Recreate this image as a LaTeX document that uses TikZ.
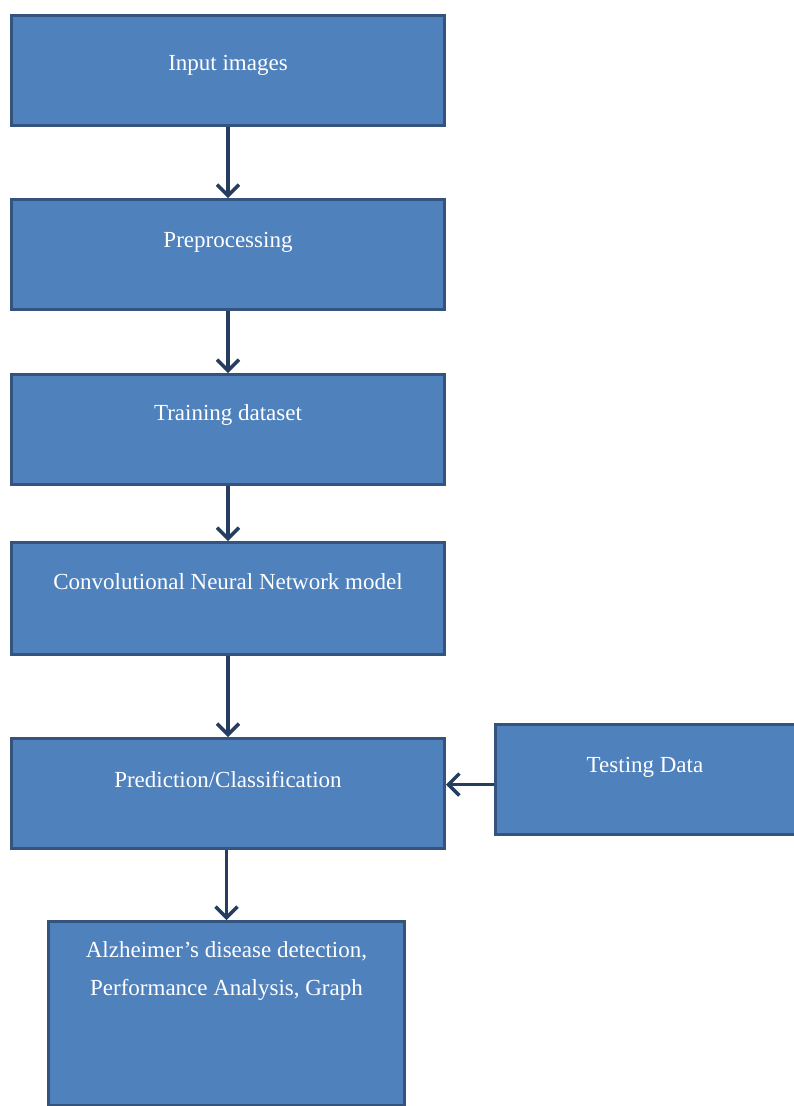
\documentclass[tikz,border=0pt]{standalone}
\usepackage{fontspec}
\setmainfont{Liberation Serif}
\usetikzlibrary{arrows.meta,positioning}

\definecolor{boxfill}{HTML}{4F81BD}
\definecolor{boxline}{HTML}{34547E}
\definecolor{arrline}{HTML}{253D5E}

\begin{document}
\begin{tikzpicture}[x=1pt,y=-1pt,
	blk/.style={draw=boxline,fill=boxfill,line width=3pt,anchor=north west,
		minimum width=433pt,minimum height=110pt,inner sep=0pt},
	txt/.style={text=white,font=\fontsize{23}{38}\selectfont,align=center},
	arr/.style={draw=arrline,line width=3.5pt,
		-{Straight Barb[length=11pt,width=22pt]}}]

\useasboundingbox (0,0) rectangle (794,1106);

% boxes
\node[blk] (inp) at (10,14) {};
\node[blk] (pre) at (10,198) {};
\node[blk] (train) at (10,373) {};
\node[blk,minimum height=112pt] (cnn) at (10,541) {};
\node[blk] (pred) at (10,737) {};
\node[blk,minimum width=305pt] (test) at (494,723) {};
\node[blk,minimum width=356pt,minimum height=184pt] (res) at (47,920) {};

% texts
\node[txt] (inpT) at ([yshift=-51pt]inp.north) {Input images};
\node[txt] (preT) at ([yshift=-44pt]pre.north) {Preprocessing};
\node[txt] (trainT) at ([yshift=-42pt]train.north) {Training dataset};
\node[txt] (cnnT) at ([yshift=-41pt]cnn.north) {Convolutional Neural Network model};
\node[txt] (predT) at ([yshift=-43pt]pred.north) {Prediction/Classification};
\node[txt] (testT) at ([yshift=-44pt,xshift=-3pt]test.north) {Testing Data};
\node[txt] (resT) at ([yshift=-51pt]res.north) {Alzheimer's disease detection,\\Performance Analysis, Graph};

% arrows
\draw[arr] (inp.south) -- (pre.north);
\draw[arr] (pre.south) -- (train.north);
\draw[arr] (train.south) -- (cnn.north);
\draw[arr] (cnn.south) -- (pred.north);
\draw[arr] (res.north |- pred.south) -- (res.north);
\draw[arr] ([yshift=-5pt]test.west) -- ([yshift=-5pt]test.west -| pred.east);

\end{tikzpicture}
\end{document}
